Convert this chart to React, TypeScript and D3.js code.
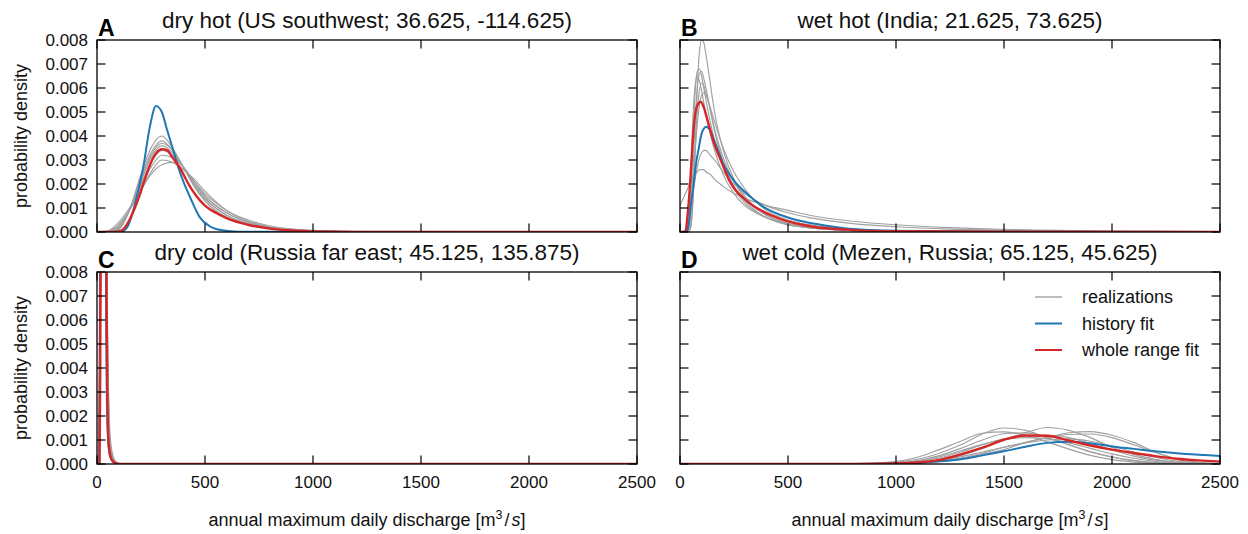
import React from 'react';
import * as d3 from 'd3';

type Pt = [number, number];

// ---------- shared axis data ----------
const xTicks = [0, 500, 1000, 1500, 2000, 2500];
const yTicks = [0, 0.001, 0.002, 0.003, 0.004, 0.005, 0.006, 0.007, 0.008];
const panelLetters = ['A', 'B', 'C', 'D'];
const panelTitles = [
  'dry hot (US southwest; 36.625, -114.625)',
  'wet hot (India; 21.625, 73.625)',
  'dry cold (Russia far east; 45.125, 135.875)',
  'wet cold (Mezen, Russia; 65.125, 45.625)',
];
const legendLabels = ['realizations', 'history fit', 'whole range fit'];

// ---------- panel A: dry hot ----------
const gridA = [0, 50, 100, 150, 200, 250, 300, 350, 400, 450, 500, 600, 700, 800, 1000, 1250, 2500];
const realizationsA = [
  [0, 0, 0.0001, 0.0009, 0.0023, 0.0035, 0.0040, 0.0035, 0.0027, 0.0019, 0.0013, 0.0006, 0.0003, 0.00015, 0.00003, 0, 0],
  [0, 0, 0.0001, 0.0009, 0.0022, 0.0033, 0.0038, 0.0034, 0.0027, 0.0019, 0.0013, 0.0006, 0.0003, 0.00015, 0.00003, 0, 0],
  [0, 0, 0.00015, 0.0009, 0.0021, 0.0032, 0.0037, 0.0034, 0.0027, 0.0020, 0.0014, 0.0007, 0.0003, 0.00015, 0.00003, 0, 0],
  [0, 0.00001, 0.0002, 0.0009, 0.0020, 0.0031, 0.0036, 0.0033, 0.0027, 0.0020, 0.0014, 0.0007, 0.00035, 0.00017, 0.00004, 0, 0],
  [0, 0.00001, 0.0002, 0.0009, 0.0019, 0.0029, 0.0034, 0.0032, 0.0027, 0.0021, 0.0015, 0.0008, 0.0004, 0.0002, 0.00005, 0.00001, 0],
  [0, 0.00002, 0.0003, 0.0009, 0.0018, 0.0027, 0.0032, 0.0031, 0.0027, 0.0021, 0.0015, 0.0008, 0.0004, 0.0002, 0.00005, 0.00001, 0],
  [0, 0.00003, 0.0003, 0.0009, 0.0017, 0.0025, 0.0030, 0.0029, 0.0026, 0.0021, 0.0016, 0.0009, 0.00045, 0.00022, 0.00006, 0.00001, 0],
  [0, 0.00005, 0.0004, 0.0010, 0.0017, 0.0024, 0.0028, 0.0029, 0.0026, 0.0022, 0.0017, 0.0009, 0.0005, 0.00025, 0.00007, 0.00001, 0],
];
const historyA: Pt[] = [
  [0, 0], [110, 0], [140, 0.0002], [168, 0.0009], [190, 0.0017], [214, 0.0027], [245, 0.0044],
  [273, 0.00525], [300, 0.0050], [323, 0.0043], [350, 0.0035], [376, 0.0027], [400, 0.0021],
  [430, 0.00147], [477, 0.0006], [520, 0.00025], [560, 0.0001], [650, 0.00001], [2500, 0],
];
const wholeA: Pt[] = [
  [0, 0], [80, 0], [110, 0.00005], [130, 0.0002], [150, 0.0005], [175, 0.001], [200, 0.0016], [225, 0.0023],
  [250, 0.0029], [275, 0.0033], [300, 0.00345], [325, 0.0034], [350, 0.0031], [375, 0.0028], [400, 0.0024],
  [430, 0.0019], [460, 0.0015], [500, 0.0011], [550, 0.0008], [600, 0.00058], [700, 0.0003], [800, 0.00014],
  [900, 0.00006], [1000, 0.00002], [1200, 0], [2500, 0],
];

// ---------- panel B: wet hot ----------
const gridB = [0, 20, 40, 50, 60, 70, 80, 90, 100, 110, 120, 140, 160, 200, 250, 300, 400, 500, 600, 800, 1000, 1250, 1500, 2000, 2500];
const realizationsB = [
  [0, 0, 0, 0.0002, 0.0012, 0.0035, 0.006, 0.0075, 0.0080, 0.0079, 0.0074, 0.0062, 0.0050, 0.0034, 0.0022, 0.0015, 0.0007, 0.00035, 0.0002, 0.00007, 0.00003, 0.00001, 0, 0, 0],
  [0, 0, 0.0003, 0.0015, 0.0038, 0.0058, 0.0067, 0.0068, 0.0065, 0.0060, 0.0055, 0.0046, 0.0038, 0.0027, 0.0018, 0.0012, 0.0006, 0.0003, 0.00017, 0.00006, 0.00003, 0.00001, 0, 0, 0],
  [0, 0, 0.0001, 0.0008, 0.0025, 0.0046, 0.0060, 0.0066, 0.0067, 0.0064, 0.0060, 0.0051, 0.0042, 0.0029, 0.0019, 0.0013, 0.0006, 0.0003, 0.00017, 0.00006, 0.00003, 0.00001, 0, 0, 0],
  [0, 0, 0.0008, 0.0025, 0.0048, 0.0061, 0.0065, 0.0063, 0.0059, 0.0054, 0.0049, 0.0041, 0.0034, 0.0024, 0.0016, 0.0011, 0.0006, 0.0003, 0.00018, 0.00007, 0.00003, 0.00001, 0, 0, 0],
  [0, 0, 0, 0.0003, 0.0014, 0.0033, 0.0050, 0.0059, 0.0062, 0.0061, 0.0058, 0.0051, 0.0043, 0.0031, 0.0021, 0.0014, 0.0007, 0.00035, 0.0002, 0.00007, 0.00003, 0.00001, 0, 0, 0],
  [0, 0, 0.0002, 0.0008, 0.002, 0.0034, 0.0045, 0.0053, 0.0057, 0.0058, 0.0057, 0.0052, 0.0046, 0.0035, 0.0025, 0.0018, 0.0009, 0.0005, 0.0003, 0.00012, 0.00005, 0.00002, 0.00001, 0, 0],
  [0, 0.00005, 0.0004, 0.0009, 0.0016, 0.0022, 0.0027, 0.0031, 0.0033, 0.0034, 0.0034, 0.0032, 0.0030, 0.0025, 0.0020, 0.0016, 0.0011, 0.0008, 0.0006, 0.00035, 0.00022, 0.00012, 0.00007, 0.00002, 0.00001],
  [0.0011, 0.0015, 0.0019, 0.0021, 0.0023, 0.0024, 0.0025, 0.0026, 0.0026, 0.0026, 0.0025, 0.0024, 0.0022, 0.0019, 0.0016, 0.0014, 0.0011, 0.0009, 0.0007, 0.00045, 0.0003, 0.00018, 0.00011, 0.00004, 0.00002],
];
const historyB: Pt[] = [
  [0, 0], [30, 0], [38, 0.0002], [50, 0.0011], [62, 0.0019], [75, 0.0029], [85, 0.0034], [100, 0.0041],
  [110, 0.0043], [120, 0.00439], [139, 0.00425], [155, 0.0039], [170, 0.00355], [200, 0.00286],
  [247, 0.00217], [309, 0.0016], [386, 0.00105], [463, 0.00072], [540, 0.0005], [617, 0.00035],
  [771, 0.00015], [1000, 0.00005], [1500, 0.00001], [2500, 0],
];
const wholeB: Pt[] = [
  [0, 0], [25, 0], [35, 0.0007], [46, 0.0019], [55, 0.0032], [62, 0.0042], [77, 0.0052], [96, 0.00543],
  [110, 0.0052], [123, 0.0048], [154, 0.0038], [193, 0.0029], [231, 0.0021], [309, 0.0013], [386, 0.00085],
  [463, 0.00055], [617, 0.00022], [771, 0.0001], [1000, 0.00003], [1500, 0.00001], [2500, 0],
];

// ---------- panel C: dry cold ----------
const gridC = [0, 5, 10, 15, 20, 25, 30, 35, 40, 45, 50, 55, 60, 70, 80, 90, 100, 120, 150, 2500];
const realizationsC = [
  [0, 0, 0.002, 0.015, 0.030, 0.034, 0.028, 0.018, 0.008, 0.0035, 0.0016, 0.0008, 0.0004, 0.00015, 0.00006, 0.00002, 0.00001, 0, 0, 0],
  [0, 0, 0.0005, 0.008, 0.024, 0.033, 0.031, 0.022, 0.012, 0.005, 0.0022, 0.001, 0.0005, 0.0002, 0.00008, 0.00003, 0.00001, 0, 0, 0],
  [0, 0, 0, 0.004, 0.018, 0.030, 0.032, 0.025, 0.015, 0.007, 0.003, 0.0014, 0.0007, 0.00025, 0.0001, 0.00004, 0.00002, 0, 0, 0],
  [0, 0, 0.001, 0.010, 0.022, 0.028, 0.026, 0.020, 0.013, 0.007, 0.0035, 0.0018, 0.0009, 0.0003, 0.00012, 0.00005, 0.00002, 0.00001, 0, 0],
  [0, 0, 0, 0.003, 0.014, 0.026, 0.030, 0.027, 0.019, 0.010, 0.0045, 0.002, 0.0009, 0.0003, 0.0001, 0.00004, 0.00002, 0, 0, 0],
  [0, 0.0002, 0.004, 0.016, 0.026, 0.027, 0.022, 0.015, 0.009, 0.005, 0.0028, 0.0015, 0.0008, 0.0003, 0.00012, 0.00005, 0.00002, 0.00001, 0, 0],
  [0, 0, 0.0008, 0.009, 0.020, 0.025, 0.024, 0.019, 0.013, 0.008, 0.0045, 0.0025, 0.0013, 0.0005, 0.0002, 0.00008, 0.00003, 0.00001, 0, 0],
  [0, 0, 0.0003, 0.006, 0.019, 0.029, 0.031, 0.026, 0.017, 0.009, 0.004, 0.0018, 0.0008, 0.0003, 0.0001, 0.00004, 0.00001, 0, 0, 0],
];
const historyC: Pt[] = [
  [0, 0], [10, 0], [13, 0.003], [16, 0.012], [20, 0.03], [25, 0.04], [30, 0.035], [35, 0.022], [40, 0.01],
  [44, 0.004], [48, 0.0017], [55, 0.0006], [65, 0.0002], [80, 0.00005], [100, 0], [2500, 0],
];
const wholeC: Pt[] = [
  [0, 0], [12, 0], [15, 0.004], [17, 0.009], [20, 0.02], [25, 0.032], [30, 0.036], [35, 0.031], [40, 0.018],
  [43, 0.010], [45, 0.006], [48, 0.0028], [52, 0.0012], [57, 0.0006], [65, 0.00025], [75, 0.0001],
  [90, 0.00003], [110, 0], [2500, 0],
];

// ---------- panel D: wet cold ----------
const gridD = [0, 800, 1000, 1100, 1200, 1300, 1400, 1500, 1600, 1700, 1800, 1900, 2000, 2100, 2200, 2300, 2400, 2500];
const realizationsD = [
  [0, 0, 0.00008, 0.0002, 0.00045, 0.0008, 0.00125, 0.0015, 0.0014, 0.0011, 0.0008, 0.0005, 0.00028, 0.00013, 0.00005, 0.00002, 0, 0],
  [0, 0, 0.00002, 0.00005, 0.00015, 0.00035, 0.00065, 0.001, 0.0013, 0.00152, 0.0014, 0.0011, 0.0007, 0.0004, 0.0002, 0.00007, 0.00002, 0],
  [0, 0, 0, 0.00002, 0.0001, 0.0002, 0.0004, 0.0006, 0.0009, 0.0011, 0.0013, 0.00135, 0.0012, 0.0009, 0.0005, 0.0002, 0.00005, 0.00001],
  [0, 0, 0.00005, 0.00014, 0.00035, 0.00065, 0.001, 0.00126, 0.0013, 0.0011, 0.0008, 0.00052, 0.0003, 0.00015, 0.00006, 0.00002, 0, 0],
  [0, 0, 0.00003, 0.0001, 0.00025, 0.0005, 0.0008, 0.00105, 0.00118, 0.0012, 0.0011, 0.00085, 0.00058, 0.00033, 0.00016, 0.00006, 0.00002, 0],
  [0, 0, 0.00001, 0.00004, 0.00012, 0.00025, 0.00045, 0.0007, 0.0009, 0.0011, 0.00123, 0.00125, 0.0011, 0.0008, 0.00048, 0.00022, 0.00008, 0.00002],
  [0, 0, 0.00004, 0.00012, 0.0003, 0.00055, 0.00082, 0.00102, 0.0011, 0.00105, 0.00088, 0.00065, 0.00042, 0.00024, 0.00011, 0.00004, 0.00001, 0],
  [0, 0, 0.00002, 0.00006, 0.00015, 0.0003, 0.0005, 0.0007, 0.00088, 0.001, 0.00105, 0.00095, 0.00075, 0.0005, 0.00028, 0.00012, 0.00004, 0.00001],
  [0, 0, 0.0001, 0.00028, 0.0006, 0.00095, 0.00128, 0.00134, 0.0012, 0.00092, 0.00062, 0.00036, 0.00018, 0.00008, 0.00003, 0.00001, 0, 0],
];
const historyD = [0, 0.000005, 0.00002, 0.00005, 0.00011, 0.0002, 0.00036, 0.00053, 0.00072, 0.00088, 0.00093, 0.00086, 0.00073, 0.00063, 0.00053, 0.00045, 0.00039, 0.00033];
const wholeD = [0, 0.000003, 0.00002, 0.00006, 0.00017, 0.0004, 0.00068, 0.00101, 0.00119, 0.00118, 0.00098, 0.00077, 0.0006, 0.00046, 0.00033, 0.00022, 0.00015, 0.0001];

// ---------- helpers ----------
const zip = (xs: number[], ys: number[]): Pt[] => xs.map((x, i) => [x, ys[i]] as Pt);

const GRAY = '#a0a0a0';
const BLUE = '#1f77b4';
const RED = '#d62728';
const FONT = '"Liberation Sans", Arial, Helvetica, sans-serif';

const PW = 540;
const PH = 192;

interface PanelProps {
  idx: number;
  left: number;
  top: number;
  gray: Pt[][];
  history: Pt[];
  whole: Pt[];
  showYLabels: boolean;
  showXLabels: boolean;
  legend?: boolean;
}

function Panel({ idx, left, top, gray, history, whole, showYLabels, showXLabels, legend }: PanelProps) {
  const x = d3.scaleLinear().domain([0, 2500]).range([left, left + PW]);
  const y = d3.scaleLinear().domain([0, 0.008]).range([top + PH, top]);
  const line = d3
    .line<Pt>()
    .x((d) => x(d[0]))
    .y((d) => y(d[1]))
    .curve(d3.curveMonotoneX);
  const clipId = `clip-${idx}`;
  const tick = 8.5;
  const bottom = top + PH;
  return (
    <g>
      <defs>
        <clipPath id={clipId}>
          <rect x={left} y={top} width={PW} height={PH} />
        </clipPath>
      </defs>
      <g clipPath={`url(#${clipId})`} fill="none" strokeLinejoin="round">
        {gray.map((g, i) => (
          <path key={i} d={line(g) || ''} stroke={GRAY} strokeWidth={1.15} />
        ))}
        <path d={line(history) || ''} stroke={BLUE} strokeWidth={2} />
        <path d={line(whole) || ''} stroke={RED} strokeWidth={2.4} />
      </g>
      <g stroke="#000" strokeWidth={1.2}>
        {xTicks.map((t) => (
          <g key={`x${t}`}>
            <line x1={x(t)} x2={x(t)} y1={bottom} y2={bottom - tick} />
            <line x1={x(t)} x2={x(t)} y1={top} y2={top + tick} />
          </g>
        ))}
        {yTicks.map((t) => (
          <g key={`y${t}`}>
            <line x1={left} x2={left + tick} y1={y(t)} y2={y(t)} />
            <line x1={left + PW} x2={left + PW - tick} y1={y(t)} y2={y(t)} />
          </g>
        ))}
      </g>
      <rect x={left} y={top} width={PW} height={PH} fill="none" stroke="#000" strokeWidth={1.3} />
      {showYLabels &&
        yTicks.map((t) => (
          <text key={`yl${t}`} x={left - 9} y={y(t)} dy="0.36em" textAnchor="end" fontSize={17} fontFamily={FONT} fill="#111">
            {t.toFixed(3)}
          </text>
        ))}
      {showXLabels &&
        xTicks.map((t) => (
          <text key={`xl${t}`} x={x(t)} y={bottom + 24} textAnchor="middle" fontSize={17} fontFamily={FONT} fill="#111">
            {t}
          </text>
        ))}
      {showXLabels && (
        <text x={left + PW / 2} y={bottom + 62} textAnchor="middle" fontSize={18} fontFamily={FONT} fill="#111">
          annual maximum daily discharge [m
          <tspan dy={-7} fontSize={12.5}>3</tspan>
          <tspan dy={7} dx={2}>/</tspan>
          <tspan dx={2} fontStyle="italic">s</tspan>]
        </text>
      )}
      {showYLabels && (
        <text
          transform={`translate(27,${top + PH / 2}) rotate(-90)`}
          textAnchor="middle"
          fontSize={18}
          fontFamily={FONT}
          fill="#111"
        >
          probability density
        </text>
      )}
      <text x={left + PW / 2} y={top - 12} textAnchor="middle" fontSize={22.5} fontFamily={FONT} fill="#111">
        {panelTitles[idx]}
      </text>
      <text x={left + 1} y={top - 4} fontSize={23} fontWeight="bold" fontFamily={FONT} fill="#000">
        {panelLetters[idx]}
      </text>
      {legend && (
        <g fontFamily={FONT} fontSize={18} fill="#111">
          {legendLabels.map((lab, i) => {
            const ly = top + 25 + i * 26.5;
            const col = i === 0 ? '#bdbdbd' : i === 1 ? BLUE : RED;
            return (
              <g key={lab}>
                <line x1={left + 355} x2={left + 382} y1={ly} y2={ly} stroke={col} strokeWidth={2} />
                <text x={left + 402} y={ly} dy="0.35em">
                  {lab}
                </text>
              </g>
            );
          })}
        </g>
      )}
    </g>
  );
}

export default function App() {
  const grayOf = (grid: number[], rows: number[][]) => rows.map((r) => zip(grid, r));
  return (
    <svg
      width={1248}
      height={534}
      viewBox="0 0 1248 534"
      style={{ position: 'absolute', left: 0, top: 0, background: '#fff' }}
    >
      <rect width={1248} height={534} fill="#fff" />
      <Panel idx={0} left={97} top={40} gray={grayOf(gridA, realizationsA)} history={historyA} whole={wholeA} showYLabels showXLabels={false} />
      <Panel idx={1} left={680} top={40} gray={grayOf(gridB, realizationsB)} history={historyB} whole={wholeB} showYLabels={false} showXLabels={false} />
      <Panel idx={2} left={97} top={272} gray={grayOf(gridC, realizationsC)} history={historyC} whole={wholeC} showYLabels showXLabels />
      <Panel idx={3} left={680} top={272} gray={grayOf(gridD, realizationsD)} history={zip(gridD, historyD)} whole={zip(gridD, wholeD)} showYLabels={false} showXLabels legend />
    </svg>
  );
}
